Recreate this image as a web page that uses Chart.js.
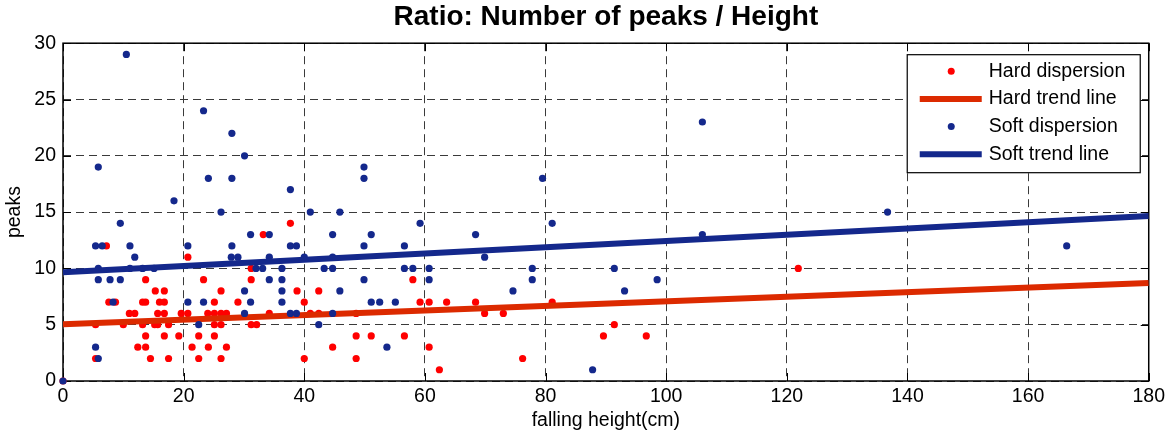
<!DOCTYPE html>
<html>
<head>
<meta charset="utf-8">
<script src="https://cdn.jsdelivr.net/npm/chart.js@4.4.1/dist/chart.umd.min.js"></script>
<style>
  html, body { margin: 0; padding: 0; background: #fff; }
</style>
</head>
<body>
<canvas id="chart" width="1169" height="434"></canvas>
<script>
// ─── data: falling height (cm) vs number of peaks ───
const hardX = [0, 7.2, 20.7, 37.7, 33.2, 13.7, 23.3, 31.2, 58.0, 31.2, 121.9,
  15.3, 16.8, 26.2, 38.8, 42.4,
  7.6, 8.7, 13.2, 13.7, 16.0, 16.8, 25.1, 29.0, 40.0, 59.2, 60.7, 63.6, 68.4, 81.1,
  11.0, 11.9, 15.7, 16.8, 19.6, 20.7, 24.0, 25.1, 26.2, 27.1, 34.2, 41.0, 42.4, 48.6, 69.9, 73.0,
  5.4, 10.0, 13.2, 15.2, 15.7, 17.5, 25.1, 26.2, 31.2, 32.1, 91.4,
  13.7, 16.8, 19.2, 22.5, 25.1, 48.6, 51.1, 56.6, 89.6, 96.7,
  12.4, 13.7, 21.4, 24.1, 27.1, 44.7, 60.7,
  5.4, 14.5, 17.5, 22.5, 26.2, 40.0, 48.6, 76.2,
  62.4];
const hardY = [0, 12, 11, 14, 13, 9, 9, 9, 9, 10, 10,
  8, 8, 8, 8, 8,
  7, 7, 7, 7, 7, 7, 7, 7, 7, 7, 7, 7, 7, 7,
  6, 6, 6, 6, 6, 6, 6, 6, 6, 6, 6, 6, 6, 6, 6, 6,
  5, 5, 5, 5, 5, 5, 5, 5, 5, 5, 5,
  4, 4, 4, 4, 4, 4, 4, 4, 4, 4,
  3, 3, 3, 3, 3, 3, 3,
  2, 2, 2, 2, 2, 2, 2, 2,
  1];

const softX = [0, 10.5, 23.3, 28.0, 30.1, 5.85, 49.9, 24.1, 28.0, 49.9, 79.5, 37.7, 18.4,
  26.2, 41.0, 45.9, 136.7, 106.0,
  9.5, 59.2, 81.1,
  31.1, 34.2, 44.7, 51.1, 68.4, 106.0,
  5.4, 6.5, 11.1, 20.7, 28.0, 37.7, 38.7, 49.9, 56.6, 166.4,
  11.9, 27.9, 29.0, 34.2, 40.0, 44.7, 69.9,
  5.85, 11.1, 13.2, 15.1, 32.0, 33.1, 36.3, 43.3, 44.7, 56.6, 58.0, 60.7, 77.8, 91.4,
  5.85, 7.8, 9.5, 34.2, 36.3, 49.9, 60.7, 77.8, 98.5,
  30.1, 36.3, 45.9, 74.6, 93.1,
  8.3, 20.7, 23.3, 31.1, 36.3, 51.1, 52.5, 55.1,
  30.1, 37.7, 38.7, 44.7,
  22.5, 42.4,
  5.4, 53.7,
  5.85,
  87.8];
const softY = [0, 29, 24, 22, 20, 19, 19, 18, 18, 18, 18, 17, 16,
  15, 15, 15, 15, 23,
  14, 14, 14,
  13, 13, 13, 13, 13, 13,
  12, 12, 12, 12, 12, 12, 12, 12, 12, 12,
  11, 11, 11, 11, 11, 11, 11,
  10, 10, 10, 10, 10, 10, 10, 10, 10, 10, 10, 10, 10, 10,
  9, 9, 9, 9, 9, 9, 9, 9, 9,
  8, 8, 8, 8, 8,
  7, 7, 7, 7, 7, 7, 7, 7,
  6, 6, 6, 6,
  5, 5,
  3, 3,
  2,
  1];

// linear trend lines, end points
const trendX = [0, 180];
const hardTrendY = [5.05, 8.7];
const softTrendY = [9.65, 14.65];

const xTicks = [0, 20, 40, 60, 80, 100, 120, 140, 160, 180];
const yTicks = [0, 5, 10, 15, 20, 25, 30];

const TITLE = 'Ratio: Number of peaks / Height';
const FONT = "Arial, 'Liberation Sans', sans-serif";
const RED = '#ff0000';
const RED_LINE = '#dc2a00';
const BLUE = '#14288c';

const pts = (xs, ys) => xs.map((v, i) => ({ x: v, y: ys[i] }));

// title centred over the axes, box, inner ticks and legend (MATLAB style)
const frame = {
  id: 'frame',
  beforeDatasetsDraw(chart) {
    const { ctx, chartArea: a, scales: { x, y } } = chart;
    ctx.save();
    ctx.fillStyle = '#000';
    ctx.font = 'bold 28px ' + FONT;
    ctx.textAlign = 'center';
    ctx.textBaseline = 'middle';
    ctx.fillText(TITLE, (a.left + a.right) / 2, 17);

    ctx.strokeStyle = '#000';
    ctx.lineWidth = 1.5;
    ctx.strokeRect(a.left, a.top, a.right - a.left, a.bottom - a.top);
    ctx.lineWidth = 1;
    ctx.beginPath();
    xTicks.forEach(v => {
      const px = Math.round(x.getPixelForValue(v)) + 0.5;
      ctx.moveTo(px, a.bottom); ctx.lineTo(px, a.bottom - 8);
      ctx.moveTo(px, a.top); ctx.lineTo(px, a.top + 8);
    });
    yTicks.forEach(v => {
      const py = Math.round(y.getPixelForValue(v)) + 0.5;
      ctx.moveTo(a.left, py); ctx.lineTo(a.left + 8, py);
      ctx.moveTo(a.right, py); ctx.lineTo(a.right - 8, py);
    });
    ctx.stroke();
    ctx.restore();
  },
  afterDatasetsDraw(chart) {
    const { ctx, chartArea: a } = chart;
    const w = 233, h = 118;
    const bx = a.right - 9 - w, by = a.top + 11;
    ctx.save();
    ctx.fillStyle = '#fff';
    ctx.fillRect(bx, by, w, h);
    ctx.strokeStyle = '#000';
    ctx.lineWidth = 1.2;
    ctx.strokeRect(bx + 0.5, by + 0.5, w, h);
    ctx.font = '19.5px ' + FONT;
    ctx.textBaseline = 'middle';
    chart.data.datasets.forEach((ds, i) => {
      const ry = by + 17 + i * 27.7;
      if (ds.showLine) {
        ctx.strokeStyle = ds.borderColor;
        ctx.lineWidth = 6;
        ctx.beginPath();
        ctx.moveTo(bx + 13, ry); ctx.lineTo(bx + 75, ry);
        ctx.stroke();
      } else {
        ctx.fillStyle = ds.backgroundColor;
        ctx.beginPath();
        ctx.arc(bx + 44.5, ry, 3.5, 0, Math.PI * 2);
        ctx.fill();
      }
      ctx.fillStyle = '#000';
      ctx.fillText(ds.label, bx + 82, ry);
    });
    ctx.restore();
  }
};

const grid = { color: '#3a3a3a', lineWidth: 1, drawTicks: false };

new Chart(document.getElementById('chart'), {
  type: 'scatter',
  data: {
    datasets: [
      { label: 'Hard dispersion', data: pts(hardX, hardY), backgroundColor: RED,
        pointRadius: 3.6, pointBorderWidth: 0, clip: false, order: 4 },
      { label: 'Hard trend line', data: pts(trendX, hardTrendY), showLine: true,
        borderColor: RED_LINE, borderWidth: 6, pointRadius: 0, borderCapStyle: 'butt', order: 3 },
      { label: 'Soft dispersion', data: pts(softX, softY), backgroundColor: BLUE,
        pointRadius: 3.6, pointBorderWidth: 0, clip: false, order: 2 },
      { label: 'Soft trend line', data: pts(trendX, softTrendY), showLine: true,
        borderColor: BLUE, borderWidth: 6, pointRadius: 0, borderCapStyle: 'butt', order: 1 }
    ]
  },
  options: {
    responsive: false,
    animation: false,
    layout: { padding: { right: 19, left: 0, top: 43.2, bottom: 0 } },
    plugins: {
      legend: { display: false },
      tooltip: { enabled: false },
      title: { display: false }
    },
    scales: {
      x: {
        type: 'linear', min: 0, max: 180,
        afterFit: s => { s.height = 53; },
        afterBuildTicks: s => { s.ticks = xTicks.map(v => ({ value: v })); },
        ticks: { color: '#000', padding: 4, maxRotation: 0, font: { family: FONT, size: 19.5 } },
        grid: grid,
        border: { display: false, dash: [8, 5] },
        title: { display: true, text: 'falling height(cm)', color: '#000',
          font: { family: FONT, size: 19.5 }, padding: { top: 2, bottom: 2 } }
      },
      y: {
        type: 'linear', min: 0, max: 30,
        afterFit: s => { s.width = 63; },
        afterBuildTicks: s => { s.ticks = yTicks.map(v => ({ value: v })); },
        ticks: { color: '#000', padding: 7, font: { family: FONT, size: 19.5 } },
        grid: grid,
        border: { display: false, dash: [8, 5] },
        title: { display: true, text: 'peaks', color: '#000',
          font: { family: FONT, size: 19.5 }, padding: { top: 3, bottom: 3 } }
      }
    }
  },
  plugins: [frame]
});
</script>
</body>
</html>
